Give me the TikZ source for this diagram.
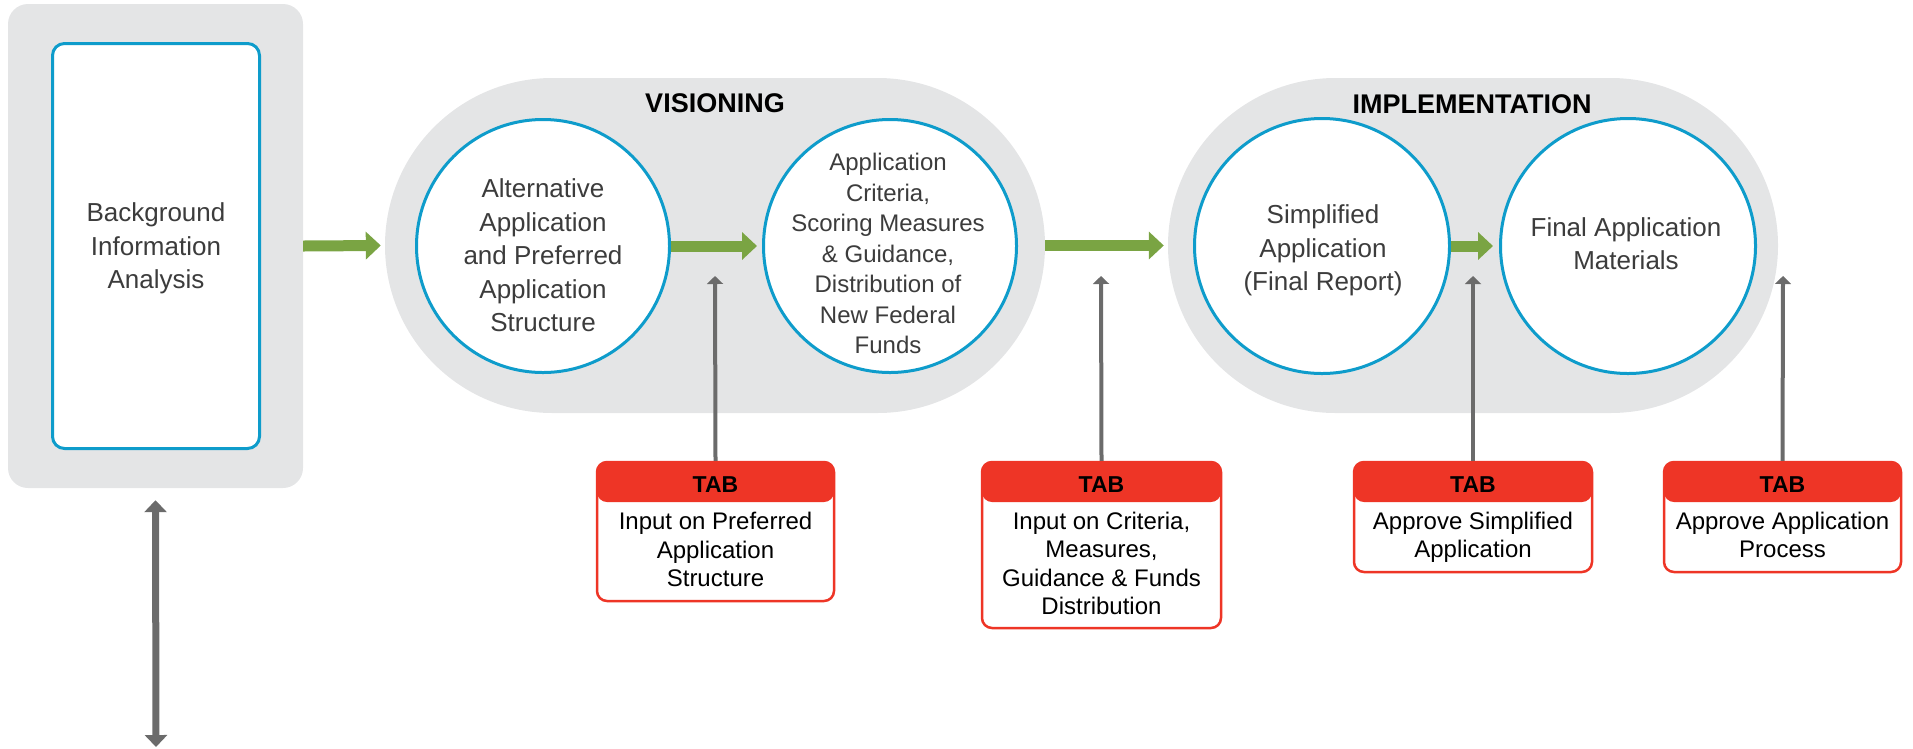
\documentclass[tikz,border=0pt]{standalone}
\usepackage{fontspec}
\setmainfont{Liberation Sans}
\usetikzlibrary{arrows.meta,calc}
\definecolor{bggray}{HTML}{E4E5E6}
\definecolor{stageblue}{HTML}{0E9CCB}
\definecolor{flowgreen}{HTML}{7AA443}
\definecolor{linkgray}{HTML}{6B6B6B}
\definecolor{tabred}{HTML}{EE3526}
\definecolor{textgray}{HTML}{3C3C3C}
\begin{document}
\begin{tikzpicture}[x=1pt,y=-1pt,
  graypanel/.style={fill=bggray, draw=none, rounded corners=20pt, inner sep=0pt},
  bluebox/.style={fill=white, draw=stageblue, line width=3pt, rounded corners=12pt, inner sep=0pt},
  pill/.style={fill=bggray, draw=none, rounded corners=167.5pt, minimum height=335pt, inner sep=0pt},
  stagecirc/.style={circle, fill=white, draw=stageblue, line width=3pt, inner sep=0pt},
  bigtext/.style={align=center, text=textgray, font={\fontsize{26}{33.5}\selectfont}},
  smalltext/.style={align=center, text=textgray, font={\fontsize{24}{30.5}\selectfont}},
  stagetitle/.style={text=black, font={\fontsize{27}{30}\selectfont\bfseries}},
  garrow/.style={draw=flowgreen, line width=11pt, -{Triangle[width=27pt,length=15pt]}},
  grarrow/.style={draw=linkgray, line width=4pt, -{Triangle[width=16pt,length=8pt]}},
  darrow/.style={draw=linkgray, line width=7pt, {Triangle[width=22pt,length=12pt]}-{Triangle[width=22pt,length=12pt]}},
  tabbox/.style={fill=white, draw=tabred, line width=2.5pt, rounded corners=10pt, inner sep=0pt,
    path picture={\fill[tabred] (path picture bounding box.north west) rectangle ([yshift=-40pt]path picture bounding box.north east);}},
  tabhead/.style={text=black, font={\fontsize{23}{26}\selectfont\bfseries}},
  tabbody/.style={align=center, text=black, font={\fontsize{24}{28.5}\selectfont}}
]
\useasboundingbox (0,0) rectangle (1913,748);

% left panel
\node[graypanel, minimum width=295pt, minimum height=484pt] (bgpanel) at (155.5,246) {};
\node[bluebox, minimum width=207pt, minimum height=405pt] (bg) at (156,246) {};
\node[bigtext] (bgtext) at (156,248.7) {Background\\Information\\Analysis};

% stage pills
\node[pill, minimum width=660pt] (vis) at (715,245.5) {};
\node[pill, minimum width=610pt] (imp) at (1473,245.5) {};
\node[stagetitle] (vistitle) at (715,103) {VISIONING};
\node[stagetitle] (imptitle) at (1472,104) {IMPLEMENTATION};

% circles
\node[stagecirc, minimum size=253pt] (c1) at (543,246) {};
\node[stagecirc, minimum size=253pt] (c2) at (890,246) {};
\node[stagecirc, minimum size=255pt] (c3) at (1322,246) {};
\node[stagecirc, minimum size=255pt] (c4) at (1628,246) {};
\node[bigtext] (c1text) at (543,255.5) {Alternative\\Application\\and Preferred\\Application\\Structure};
\node[smalltext] (c2text) at (888,253.5) {Application\\Criteria,\\Scoring Measures\\\& Guidance,\\Distribution of\\New Federal\\Funds};
\node[bigtext] (c3text) at (1323,250.7) {Simplified\\Application\\(Final Report)};
\node[bigtext] (c4text) at (1626,243.5) {Final Application\\Materials};

% flow arrows
\draw[garrow] (bgpanel.east) -- ([xshift=-4pt]vis.west);
\draw[garrow] (c1.east) -- ([xshift=-5pt]c2.west);
\draw[garrow] (vis.east) -- ([xshift=-4pt]imp.west);
\draw[garrow] (c3.east) -- ([xshift=-6pt]c4.west);

% TAB boxes
\node[tabbox, minimum width=237pt, minimum height=139pt] (t1) at (715.5,531.5) {};
\node[tabbox, minimum width=239pt, minimum height=166pt] (t2) at (1101.5,545) {};
\node[tabbox, minimum width=238pt, minimum height=110pt] (t3) at (1473,517) {};
\node[tabbox, minimum width=237pt, minimum height=110pt] (t4) at (1782.5,517) {};
\node[tabhead] (t1h) at (715.5,485) {TAB};
\node[tabhead] (t2h) at (1101.5,485) {TAB};
\node[tabhead] (t3h) at (1473,485) {TAB};
\node[tabhead] (t4h) at (1782.5,485) {TAB};
\node[tabbody] (t1b) at (715.5,549.5) {Input on Preferred\\Application\\Structure};
\node[tabbody] (t2b) at (1101.5,563.5) {Input on Criteria,\\Measures,\\Guidance \& Funds\\Distribution};
\node[tabbody] (t3b) at (1473,537.5) {Approve Simplified\\Application};
\node[tabbody] (t4b) at (1782.5,535) {Approve Application\\Process};

% TAB input arrows
\coordinate (p1) at (715,276);
\coordinate (p2) at (1101,276);
\coordinate (p3) at (1473,276);
\coordinate (p4) at (1783,276);
\draw[grarrow] (t1.north) -- (p1);
\draw[grarrow] (t2.north) -- (p2);
\draw[grarrow] (t3.north) -- (p3);
\draw[grarrow] (t4.north) -- (p4);

% double arrow below left panel
\coordinate (dend) at (156,747);
\draw[darrow] ([yshift=-12pt]bgpanel.south) -- (dend);
\end{tikzpicture}
\end{document}
